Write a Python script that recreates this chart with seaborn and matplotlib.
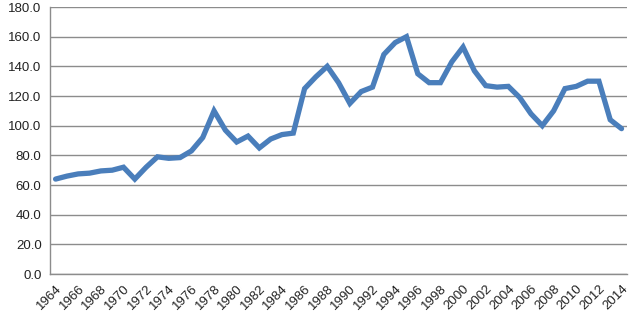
import matplotlib
matplotlib.use("Agg")
import matplotlib.pyplot as plt
import seaborn as sns
import pandas as pd

years = list(range(1964, 2015))
values = [64, 66, 67.5, 68, 69.5, 70, 72, 64, 72, 79,
          78, 78.5, 83, 92, 110, 97, 89, 93, 85, 91,
          94, 95, 125, 133, 140, 129, 115, 123, 126, 148,
          156, 160, 135, 129, 129, 143, 153, 137, 127, 126,
          126.5, 119, 108, 100, 110, 125, 126.5, 130, 130, 104,
          98]
y_ticks = [0, 20, 40, 60, 80, 100, 120, 140, 160, 180]

df = pd.DataFrame({"year": years, "value": values})

sns.set_style("white")
plt.rcParams["font.family"] = ["Liberation Sans", "DejaVu Sans"]

fig = plt.figure(figsize=(6.4, 3.19), dpi=100)
ax = fig.add_axes([0.078, 0.141, 0.902, 0.837])

sns.lineplot(x="year", y="value", data=df, color="#4A7EBB", linewidth=3.8,
             ax=ax, solid_joinstyle="miter")

ax.set_xlim(years[0] - 0.5, years[-1] + 0.5)
ax.set_ylim(0, 180)
ax.set_yticks(y_ticks)
ax.set_yticklabels([f"{v:.1f}" for v in y_ticks], fontsize=9.5, color="#222222")
ax.yaxis.grid(True, color="#8C8C8C", linewidth=1)
ax.set_axisbelow(True)

ax.set_xticks(years[::2])
ax.set_xticklabels([str(y) for y in years[::2]], rotation=45, ha="right",
                   rotation_mode="anchor", fontsize=9.5, color="#222222")
ax.set_xticks([y - 0.5 for y in years] + [years[-1] + 0.5], minor=True)
ax.tick_params(axis="x", which="major", length=0, pad=6)
ax.tick_params(axis="x", which="minor", length=4, color="#8C8C8C", width=1)
ax.tick_params(axis="y", length=4, color="#8C8C8C", pad=2)

ax.set_xlabel("")
ax.set_ylabel("")
for side in ["top", "right"]:
    ax.spines[side].set_visible(False)
for side in ["left", "bottom"]:
    ax.spines[side].set_color("#8C8C8C")
    ax.spines[side].set_linewidth(1)

fig.savefig("out.png", dpi=100)
